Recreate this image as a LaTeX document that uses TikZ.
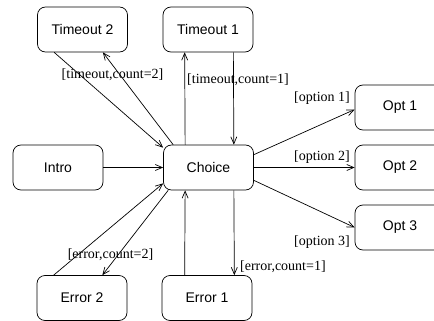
\documentclass[tikz,border=0pt]{standalone}
\usepackage{fontspec}
\setmainfont{Liberation Serif}
\setsansfont{Liberation Sans}
\usetikzlibrary{arrows.meta}

\tikzset{
  state/.style={draw, rounded corners=8pt, line width=0.7pt,
    minimum width=90pt, minimum height=45pt, inner sep=0pt,
    font=\sffamily\fontsize{14}{16}\selectfont},
  guard/.style={inner sep=0pt, font=\rmfamily\fontsize{14}{16}\selectfont},
  arr/.style={line width=0.7pt, -{Straight Barb[length=7pt,width=6pt]}}
}

\begin{document}
\begin{tikzpicture}[x=1pt, y=-1pt]
  \useasboundingbox (0,0) rectangle (434,321);
  \clip (0,0) rectangle (434,321);

  % states
  \node[state] (t2) at (82.5,29.5) {Timeout 2};
  \node[state] (t1) at (208,29.5) {Timeout 1};
  \node[state] (intro) at (58,167.5) {Intro};
  \node[state] (choice) at (208.5,167.5) {Choice};
  \node[state] (o1) at (400,107.5) {Opt 1};
  \node[state] (o2) at (400,167.5) {Opt 2};
  \node[state] (o3) at (400,227.5) {Opt 3};
  \node[state] (e2) at (82,298) {Error 2};
  \node[state] (e1) at (207,298) {Error 1};

  % transitions
  \draw[arr] (intro.east) -- (choice.west);
  \draw[arr] ([xshift=17pt]t2.south west) -- ([yshift=-3pt]choice.north west);
  \draw[arr] ([xshift=10pt]choice.north west) -- ([xshift=-25pt]t2.south east);
  \draw[arr] ([xshift=22pt]choice.north west) -- ([xshift=22pt]t1.south west);
  \draw[arr] ([xshift=-20pt]t1.south east) -- ([xshift=-20pt]choice.north east);
  \draw[arr] ([yshift=-10pt]choice.north east) -- ([yshift=-2pt]o1.west);
  \draw[arr] (choice.east) -- (o2.west);
  \draw[arr] ([yshift=10pt]choice.south east) -- (o3.west);
  \draw[arr] ([xshift=17pt]e2.north west) -- ([yshift=7pt]choice.south west);
  \draw[arr] ([xshift=5pt]choice.south west) -- ([xshift=-25pt]e2.north east);
  \draw[arr] ([xshift=23pt]e1.north west) -- ([xshift=22pt]choice.south west);
  \draw[arr] ([xshift=-20pt]choice.south east) -- ([xshift=-18pt]e1.north east);

  % guards
  \node[guard] (g1) at (112.5,75) {[timeout,count=2]};
  \node[guard, anchor=west] (g2) at (187,80) {[timeout,count=1]};
  \node[guard, anchor=east] (g3) at (350,98) {[option 1]};
  \node[guard, anchor=east] (g4) at (350,157) {[option 2]};
  \node[guard, anchor=east] (g5) at (350,242) {[option 3]};
  \node[guard] (g6) at (110.5,255) {[error,count=2]};
  \node[guard, anchor=west] (g7) at (240,267) {[error,count=1]};
\end{tikzpicture}
\end{document}
